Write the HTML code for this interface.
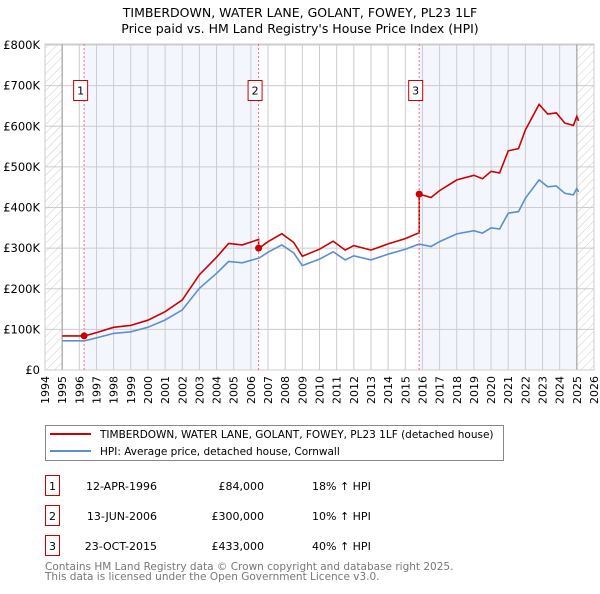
<!DOCTYPE html>
<html><head><meta charset="utf-8"><style>
body{margin:0;background:#fff;font-family:"DejaVu Sans","Liberation Sans",sans-serif;}
svg text{font-family:"DejaVu Sans","Liberation Sans",sans-serif;}
</style></head><body>
<svg id="chart" width="600" height="590" xmlns="http://www.w3.org/2000/svg">
<defs><pattern id="hatch" patternUnits="userSpaceOnUse" width="6" height="6" patternTransform="rotate(45)"><line x1="0" y1="0" x2="0" y2="6" stroke="#ccc" stroke-width="1"/></pattern></defs>
<text x="300" y="17" text-anchor="middle" font-size="12.5">TIMBERDOWN, WATER LANE, GOLANT, FOWEY, PL23 1LF</text>
<text x="300" y="33" text-anchor="middle" font-size="12.5">Price paid vs. HM Land Registry's House Price Index (HPI)</text>
<g id="plot"></g>
<g>
<rect x="45.5" y="425.5" width="458" height="35" fill="#fff" stroke="#888"/>
<line x1="50" y1="434" x2="91" y2="434" stroke="#cc0000" stroke-width="2"/>
<text x="100" y="438" font-size="10.5">TIMBERDOWN, WATER LANE, GOLANT, FOWEY, PL23 1LF (detached house)</text>
<line x1="50" y1="451" x2="91" y2="451" stroke="#5b8fd0" stroke-width="2"/>
<text x="100" y="455" font-size="10.5">HPI: Average price, detached house, Cornwall</text>
</g>
<g id="table" font-size="11"></g>
<text x="45" y="570" font-size="10.5" fill="#777">Contains HM Land Registry data © Crown copyright and database right 2025.</text>
<text x="45" y="580" font-size="10.5" fill="#777">This data is licensed under the Open Government Licence v3.0.</text>
</svg>
<script>
const hpiYears=[1995,1996.3,1997,1998,1999,2000,2001,2002,2003,2004,2004.7,2005.5,2006.5,2007,2007.8,2008.5,2009,2010,2010.8,2011.5,2012,2013,2014,2015,2015.8,2016.5,2017,2018,2019,2019.5,2020,2020.5,2021,2021.6,2022,2022.8,2023.3,2023.8,2024.3,2024.8,2025,2025.1];
const hpiValues=[72,72,79,90,94,105,123,148,201,238,267,264,276,290,308,288,257,273,291,271,281,271,285,297,310,304,316,335,343,337,350,347,386,390,423,468,451,453,435,431,447,439];
const saleLabels=["1","2","3"];
const saleDates=[1996.28,2006.45,2015.81];
const salePrices=[84,300,433];
const saleDateText=["12-APR-1996","13-JUN-2006","23-OCT-2015"];
const salePriceText=["£84,000","£300,000","£433,000"];
const salePctText=["18% ↑ HPI","10% ↑ HPI","40% ↑ HPI"];
const yTicks=[0,100,200,300,400,500,600,700,800];
const yTickLabels=["£0","£100K","£200K","£300K","£400K","£500K","£600K","£700K","£800K"];
const xStart=1994,xEnd=2026;
const NS="http://www.w3.org/2000/svg";
const X=y=>45+(y-xStart)*(594-45)/(xEnd-xStart);
const Y=v=>370-v*325/800;
function mk(tag,attrs,parent){const e=document.createElementNS(NS,tag);for(const k in attrs)e.setAttribute(k,attrs[k]);parent.appendChild(e);return e;}
function hpiAt(t){if(t<=hpiYears[0])return hpiValues[0];for(let i=1;i<hpiYears.length;i++){if(t<=hpiYears[i]){const f=(t-hpiYears[i-1])/(hpiYears[i]-hpiYears[i-1]);return hpiValues[i-1]+f*(hpiValues[i]-hpiValues[i-1]);}}return hpiValues[hpiValues.length-1];}
const g=document.getElementById('plot');
for(let i=0;i<saleDates.length;i+=2){
 const x1=X(saleDates[i]);const x2=i+1<saleDates.length?X(saleDates[i+1]):X(2025);
 const r=mk('rect',{x:x1,y:44,width:x2-x1,height:326,fill:'#eef3fc',opacity:0.7},g);
 
 
}
const h1=mk('rect',{x:45,y:44,width:X(1995)-45,height:326,fill:'url(#hatch)'},g);


const h2=mk('rect',{x:X(2025),y:44,width:594-X(2025),height:326,fill:'url(#hatch)'},g);


for(let yr=xStart;yr<=xEnd;yr++){
 mk('line',{x1:X(yr),y1:44,x2:X(yr),y2:370,stroke:'#ccc','stroke-width':1},g);
 const t=mk('text',{x:0,y:0,'font-size':11,'text-anchor':'end',transform:`translate(${X(yr)+4},376) rotate(-90)`},g);
 
 
 t.textContent=yr;
}
yTicks.forEach((v,i)=>{
 mk('line',{x1:45,y1:Y(v),x2:594,y2:Y(v),stroke:'#ccc','stroke-width':1},g);
 const t=mk('text',{x:40,y:Y(v)+4,'font-size':11.5,'text-anchor':'end'},g);
 
 
 t.textContent=yTickLabels[i];
});
mk('line',{x1:X(1995),y1:44,x2:X(1995),y2:370,stroke:'#999'},g);
mk('line',{x1:X(2025),y1:44,x2:X(2025),y2:370,stroke:'#999'},g);
mk('rect',{x:45,y:44,width:549,height:326,fill:'none',stroke:'#ccc'},g);
let hp='';hpiYears.forEach((t,i)=>{hp+=(i?'L':'M')+X(t).toFixed(1)+','+Y(hpiValues[i]).toFixed(1);});
const hl=mk('path',{d:hp,fill:'none',stroke:'#5b8fd0','stroke-width':1.6},g);


function ratioAt(t){let k=0;for(let i=0;i<saleDates.length;i++)if(t>=saleDates[i])k=i;return salePrices[k]/hpiAt(saleDates[k]);}
const pts=[...hpiYears,...saleDates].sort((a,b)=>a-b);
let rp='';pts.forEach((t,i)=>{
 const si=saleDates.indexOf(t);
 if(si>0){rp+='L'+X(t).toFixed(1)+','+Y(hpiAt(t)*salePrices[si-1]/hpiAt(saleDates[si-1])).toFixed(1);}
 rp+=(i?'L':'M')+X(t).toFixed(1)+','+Y(hpiAt(t)*ratioAt(t)).toFixed(1);
});
const rl=mk('path',{d:rp,fill:'none',stroke:'#cc0000','stroke-width':1.6},g);


saleDates.forEach((t,i)=>{
 const vl=mk('line',{x1:X(t),y1:44,x2:X(t),y2:370,stroke:'#f07070','stroke-dasharray':'2,2'},g);
 
 
 const c=mk('circle',{cx:X(t),cy:Y(salePrices[i]),r:3.5,fill:'#cc0000'},g);
 
 
 const b=mk('rect',{x:X(t)-10.5,y:80.5,width:14,height:20,fill:'#fff',stroke:'#cc0000'},g);
 
 
 const tx=mk('text',{x:X(t)-3.5,y:94.5,'font-size':11,'text-anchor':'middle'},g);
 tx.textContent=saleLabels[i];
});
const tb=document.getElementById('table');
saleLabels.forEach((l,i)=>{
 const y=486+i*30;
 const b=mk('rect',{x:45.5,y:y-10.5,width:14,height:20,fill:'#fff',stroke:'#cc0000'},tb);
 
 
 const t0=mk('text',{x:52.5,y:y+4,'text-anchor':'middle'},tb);t0.textContent=l;
 const t1=mk('text',{x:157,y:y+4,'text-anchor':'end'},tb);t1.textContent=saleDateText[i];
 
 
 const t2=mk('text',{x:264,y:y+4,'text-anchor':'end'},tb);t2.textContent=salePriceText[i];
 
 
 const t3=mk('text',{x:312,y:y+4},tb);t3.textContent=salePctText[i];
 
 
});
</script>
</body></html>
